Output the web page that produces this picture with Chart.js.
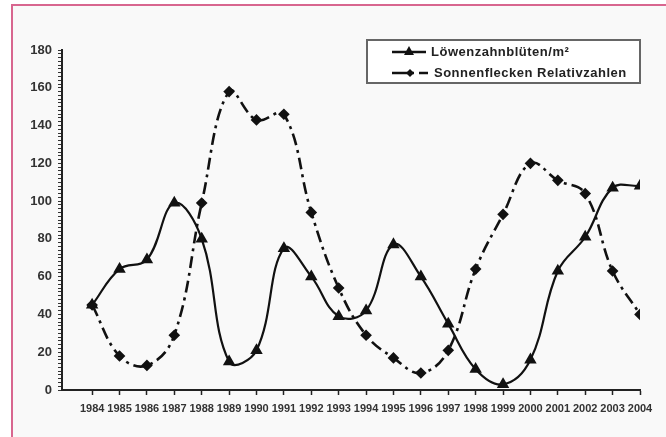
<!DOCTYPE html>
<html>
<head>
<meta charset="utf-8">
<script src="https://cdn.jsdelivr.net/npm/chart.js@4"></script>
<style>
  body { margin: 0; background: #fff; }
  #frame { position: absolute; left: 11px; top: 4px; width: 660px; height: 440px;
           border-left: 2px solid #d8668f; border-top: 2px solid #d8668f; background: #f9f9f9; }
  #wrap { position: absolute; left: 0; top: 0; width: 666px; height: 437px; }
</style>
</head>
<body>
<div id="frame"></div>
<div id="wrap"><canvas id="myChart" width="666" height="437"></canvas></div>
<script>
// years along the x-axis
let years = [1984,1985,1986,1987,1988,1989,1990,1991,1992,1993,1994,1995,1996,1997,1998,1999,2000,2001,2002,2003,2004];
// dandelion blossoms per m2
let loewenzahn = [45,64,69,99,80,15,21,75,60,39,42,77,60,35,11,3,16,63,81,107,108];
// sunspot relative numbers
let sonnenflecken = [45,18,13,29,99,158,143,146,94,54,29,17,9,21,64,93,120,111,104,63,40];

let names = ['Löwenzahnblüten/m²', 'Sonnenflecken Relativzahlen'];
let dashStyle = [12, 5, 3, 5];

function toPoints(vals){
  return years.map((y, i) => ({x: y, y: vals[i]}));
}

// draws the boxed legend like the original
const boxLegend = {
  id: 'boxLegend',
  afterDraw(chart){
    const c = chart.ctx;
    c.save();
    c.fillStyle = '#ffffff';
    c.fillRect(367, 40, 273, 43);
    c.strokeStyle = '#666';
    c.lineWidth = 2;
    c.strokeRect(367, 40, 273, 43);
    c.strokeStyle = '#111';
    c.fillStyle = '#111';
    c.lineWidth = 2.5;
    // row 1: solid + triangle
    c.beginPath(); c.moveTo(392, 52); c.lineTo(426, 52); c.stroke();
    c.beginPath(); c.moveTo(409, 46); c.lineTo(414, 55); c.lineTo(404, 55); c.closePath(); c.fill();
    // row 2: dash + diamond
    c.beginPath(); c.moveTo(392, 73); c.lineTo(414, 73); c.stroke();
    c.beginPath(); c.moveTo(419, 73); c.lineTo(428, 73); c.stroke();
    c.beginPath(); c.moveTo(410, 69); c.lineTo(414, 73); c.lineTo(410, 77); c.lineTo(406, 73); c.closePath(); c.fill();
    c.font = 'bold 13px "Liberation Sans", Arial, sans-serif';
    c.letterSpacing = '0.5px';
    c.fillStyle = '#222';
    c.textBaseline = 'middle';
    c.fillText(names[0], 431, 52);
    c.fillText(names[1], 434, 73);
    c.restore();
  }
};

function renderChart(){
  let ctx = document.getElementById('myChart');
  new Chart(ctx, {
    type: 'line',
    data: {
      datasets: [
        {
          label: names[0],
          data: toPoints(loewenzahn),
          borderColor: '#111',
          backgroundColor: '#111',
          borderWidth: 2.2,
          tension: 0.4,
          pointStyle: 'triangle',
          pointRadius: 5,
          fill: false
        },
        {
          label: names[1],
          data: toPoints(sonnenflecken),
          borderColor: '#111',
          backgroundColor: '#111',
          borderWidth: 2.6,
          borderDash: dashStyle,
          tension: 0.4,
          pointStyle: 'rectRot',
          pointRadius: 4,
          fill: false
        }
      ]
    },
    options: {
      responsive: false,
      animation: false,
      layout: { padding: { left: 0, right: 26, top: 50, bottom: 0 } },
      plugins: { legend: { display: false }, tooltip: { enabled: false } },
      scales: {
        x: {
          type: 'linear',
          min: 1982.9,
          max: 2004,
          afterFit: s => { s.height = 47; },
          afterBuildTicks: s => { s.ticks = years.map(v => ({value: v})); },
          border: { color: '#222', width: 2 },
          grid: { drawOnChartArea: false, tickLength: 5, color: '#222', tickWidth: 1.5 },
          ticks: {
            autoSkip: false, maxRotation: 0, padding: 7,
            color: '#333',
            font: { family: '"Liberation Sans", Arial, sans-serif', size: 11, weight: 'bold' },
            callback: v => String(v)
          }
        },
        y: {
          min: 0,
          max: 180,
          afterFit: s => { s.width = 62; },
          border: { color: '#222', width: 2 },
          grid: { drawOnChartArea: false, tickLength: 4, color: '#333', tickWidth: 1 },
          ticks: {
            stepSize: 2, autoSkip: false, padding: 6,
            color: '#333',
            font: { family: '"Liberation Sans", Arial, sans-serif', size: 13, weight: 'bold' },
            callback: v => (v % 20 === 0 ? String(v) : '')
          }
        }
      }
    },
    plugins: [boxLegend]
  });
}

renderChart();
</script>
</body>
</html>
